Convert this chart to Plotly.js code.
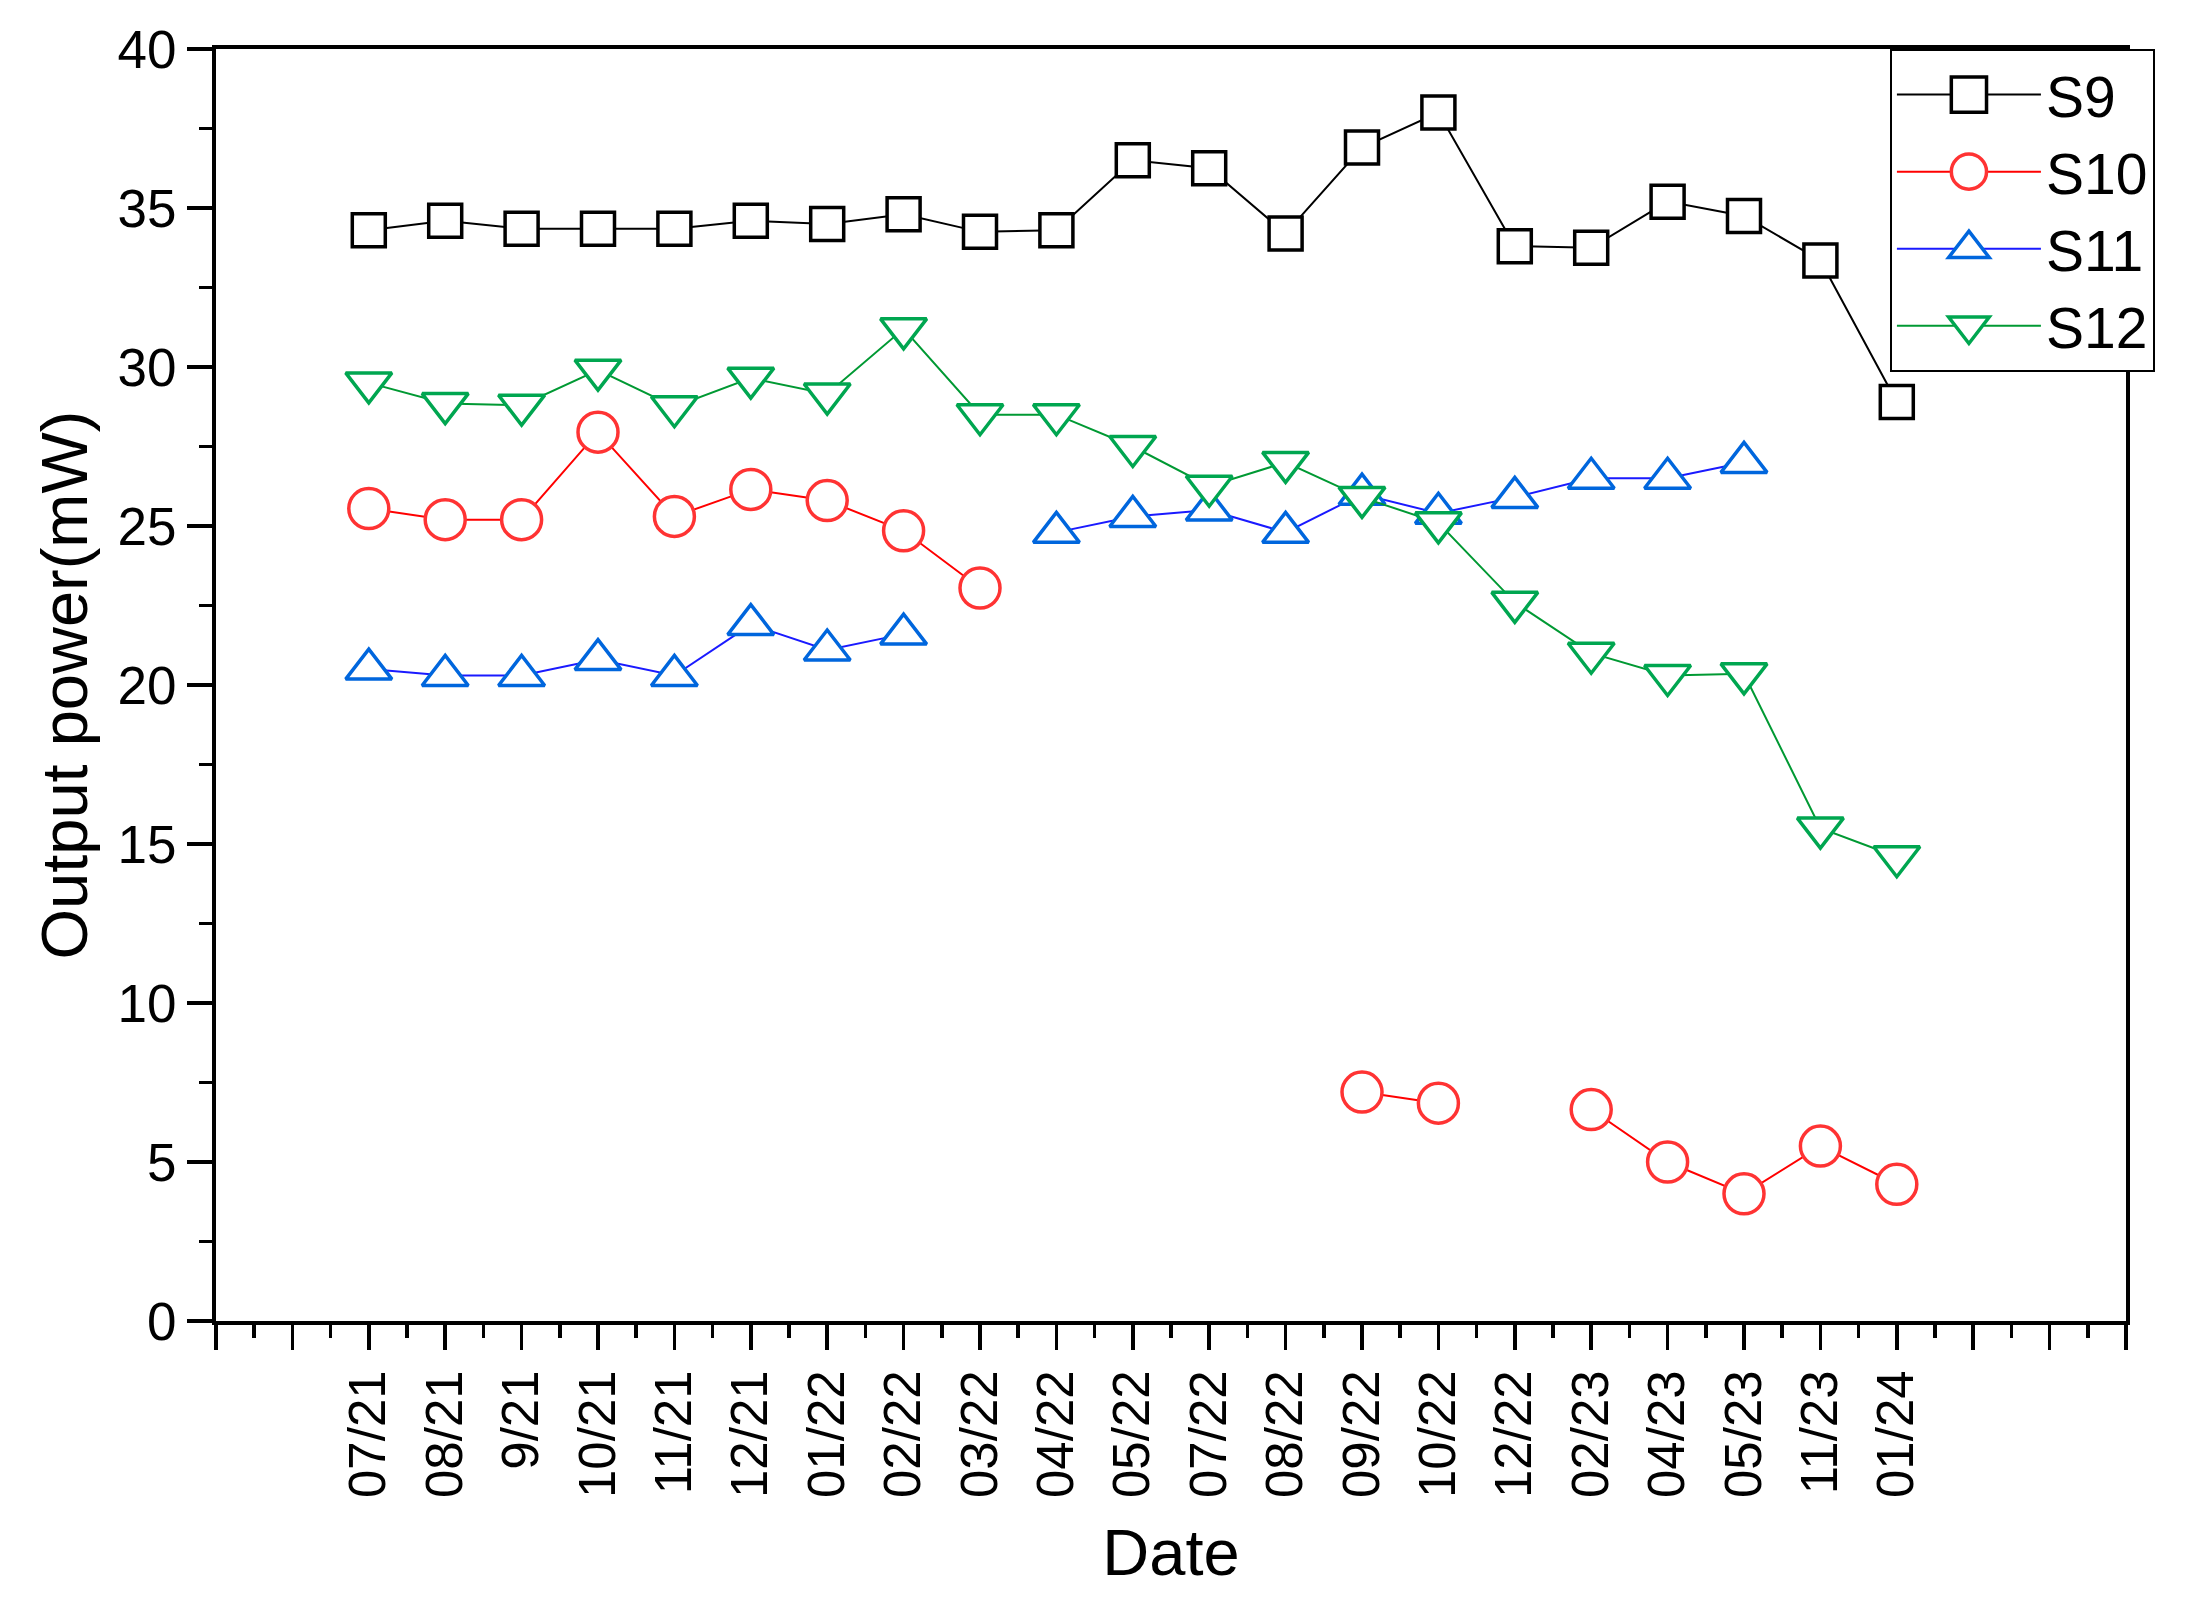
<!DOCTYPE html>
<html>
<head>
<meta charset="utf-8">
<script src="https://cdn.plot.ly/plotly-3.0.1.min.js"></script>
<style>html,body{margin:0;padding:0;background:#fff;}#chart{width:2190px;height:1600px;}</style>
</head>
<body>
<div id="chart"></div>
<script>
const dates = ["07/21","08/21","9/21","10/21","11/21","12/21","01/22","02/22","03/22","04/22","05/22","07/22","08/22","09/22","10/22","12/22","02/23","04/23","05/23","11/23","01/24"];
const S9  = [34.3,34.6,34.35,34.35,34.35,34.6,34.5,34.8,34.25,34.3,36.5,36.25,34.2,36.9,38.0,33.8,33.75,35.2,34.75,33.35,28.9];
const S10 = [25.55,25.2,25.2,27.95,25.3,26.15,25.8,24.85,23.05,null,null,null,null,7.2,6.85,null,6.65,5.0,4.0,5.5,4.3];
const S11 = [20.5,20.3,20.3,20.8,20.3,21.9,21.1,21.6,null,24.8,25.3,25.5,24.8,26.0,25.4,25.9,26.5,26.5,27.0,null,null];
const S12 = [29.5,28.85,28.8,29.9,28.75,29.65,29.15,31.2,28.5,28.5,27.5,26.25,27.0,25.9,25.1,22.6,21.0,20.3,20.35,15.5,14.6];

const xIdx = dates.map((d, i) => i);
const tickVals = [];
const tickText = [];
for (let v = -2; v <= 23; v++) { tickVals.push(v); tickText.push(v >= 0 && v < dates.length ? dates[v] : ""); }

const FONT = "Arial, 'Liberation Sans', sans-serif";

function series(name, y, symbol, size, mcol, lcol) {
  return {
    type: "scatter", mode: "lines+markers", name: name, x: xIdx, y: y,
    line: {color: lcol, width: 2},
    marker: {symbol: symbol, size: size, color: "#ffffff", line: {color: mcol, width: 3.5}},
    connectgaps: false
  };
}

const traces = [
  series("S9", S9, "square", 33, "#000000", "#000000"),
  series("S10", S10, "circle", 40, "#ff3333", "#ff0000"),
  series("S11", S11, "triangle-up", 40, "#0066dd", "#1a1aff"),
  series("S12", S12, "triangle-down", 40, "#00a650", "#009933")
];

const layout = {
  width: 2190, height: 1600,
  paper_bgcolor: "#ffffff", plot_bgcolor: "#ffffff",
  margin: {l: 216, r: 64, t: 49, b: 279},
  font: {family: FONT, color: "#000000"},
  showlegend: true,
  legend: {
    x: 0.8764, y: 1, xanchor: "left", yanchor: "top",
    bgcolor: "#ffffff", bordercolor: "#000000", borderwidth: 2,
    font: {family: FONT, size: 57, color: "#000000"},
    itemwidth: 144, tracegroupgap: 0
  },
  xaxis: {
    type: "linear", range: [-2, 23],
    tickmode: "array", tickvals: tickVals, ticktext: tickText, tickangle: -90,
    ticks: "outside", ticklen: 25, tickwidth: 3.5, tickcolor: "#000000",
    minor: {tickmode: "linear", tick0: -1.5, dtick: 1, ticks: "outside", ticklen: 13, tickwidth: 3.5, tickcolor: "#000000", showgrid: false},
    showline: true, linecolor: "#000000", linewidth: 4, mirror: true,
    showgrid: false, zeroline: false,
    tickfont: {family: FONT, size: 51, color: "#000000"},
    title: {text: "Date", font: {family: FONT, size: 65, color: "#000000"}, standoff: 33}
  },
  yaxis: {
    range: [0, 40], tickmode: "linear", tick0: 0, dtick: 5,
    ticks: "outside", ticklen: 25, tickwidth: 3.5, tickcolor: "#000000",
    minor: {tickmode: "linear", tick0: 0, dtick: 2.5, ticks: "outside", ticklen: 13, tickwidth: 3.5, tickcolor: "#000000", showgrid: false},
    showline: true, linecolor: "#000000", linewidth: 4, mirror: true,
    showgrid: false, zeroline: false,
    tickfont: {family: FONT, size: 53, color: "#000000"},
    title: {text: "Output power(mW)", font: {family: FONT, size: 65, color: "#000000"}, standoff: 10}
  }
};

Plotly.newPlot("chart", traces, layout, {staticPlot: true, displayModeBar: false}).then(function (gd) {
  const pts = gd.querySelectorAll(".legend .legendpoints path.scatterpts");
  pts.forEach(function (p) {
    const t = p.getAttribute("transform") || "";
    p.setAttribute("transform", t + " scale(2.2)");
    p.setAttribute("vector-effect", "non-scaling-stroke");
    p.style.vectorEffect = "non-scaling-stroke";
  });
});
</script>
</body>
</html>
